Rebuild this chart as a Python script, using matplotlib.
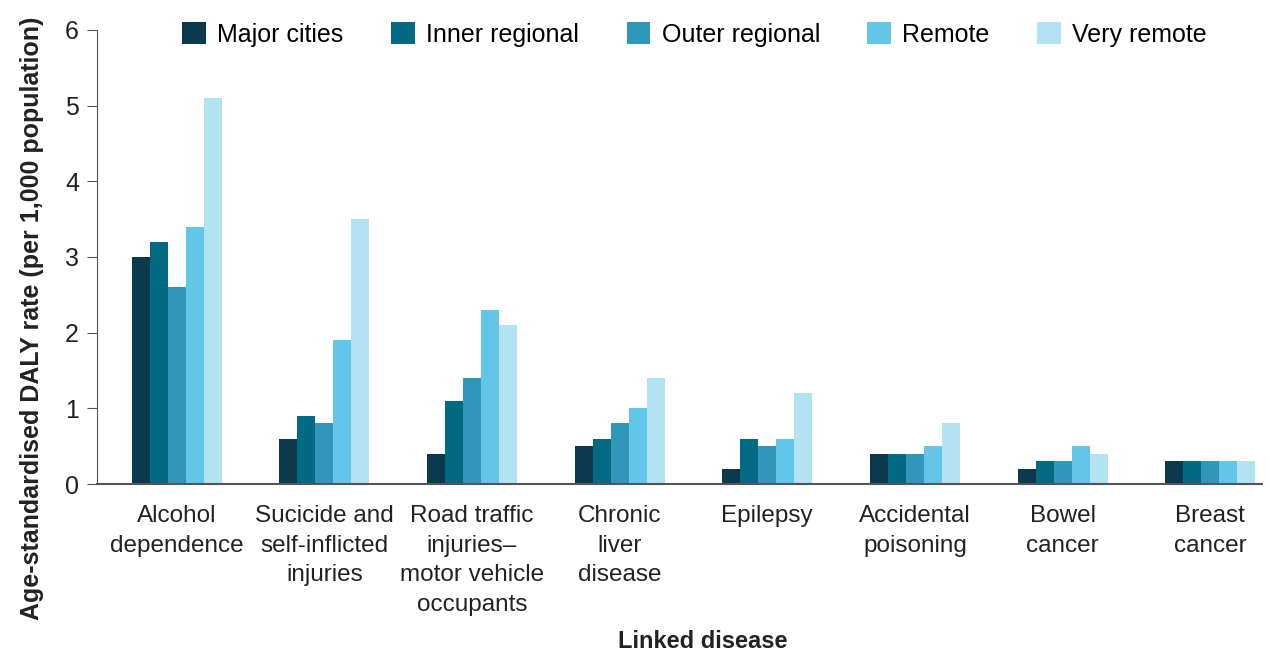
import matplotlib.pyplot as plt
import numpy as np

plt.rcParams['font.family'] = ['Liberation Sans', 'DejaVu Sans']

diseases = ['Alcohol\ndependence', 'Sucicide and\nself-inflicted\ninjuries',
            'Road traffic\ninjuries\u2013\nmotor vehicle\noccupants',
            'Chronic\nliver\ndisease', 'Epilepsy', 'Accidental\npoisoning',
            'Bowel\ncancer', 'Breast\ncancer']
regions = ['Major cities', 'Inner regional', 'Outer regional', 'Remote', 'Very remote']
major_cities = [3.0, 0.6, 0.4, 0.5, 0.2, 0.4, 0.2, 0.3]
inner_regional = [3.2, 0.9, 1.1, 0.6, 0.6, 0.4, 0.3, 0.3]
outer_regional = [2.6, 0.8, 1.4, 0.8, 0.5, 0.4, 0.3, 0.3]
remote = [3.4, 1.9, 2.3, 1.0, 0.6, 0.5, 0.5, 0.3]
very_remote = [5.1, 3.5, 2.1, 1.4, 1.2, 0.8, 0.4, 0.3]
series = [major_cities, inner_regional, outer_regional, remote, very_remote]
colors = ['#0a394d', '#006a82', '#2f98ba', '#61c6e8', '#b3e2f3']

fig = plt.figure(figsize=(12.69, 6.51), dpi=100)
ax = fig.add_axes([0.0764, 0.2565, 0.918, 0.6975])

x = np.arange(len(diseases))
w = 0.122
for i, (vals, c, name) in enumerate(zip(series, colors, regions)):
    ax.bar(x + (i - 2) * w, vals, w, color=c, label=name)

ax.set_xlim(-0.54, 7.35)
ax.set_ylim(0, 6)
ax.set_yticks(range(7))
ax.set_xticks(x)
ax.set_xticklabels(diseases, fontsize=17.5, color='#222222', linespacing=1.46)
ax.tick_params(axis='x', length=0, pad=15)
ax.tick_params(axis='y', labelsize=18, colors='#222222', length=7, pad=6,
               color='#555555')
for s in ['top', 'right']:
    ax.spines[s].set_visible(False)
ax.spines['left'].set_color('#555555')
ax.spines['bottom'].set_color('#555555')
ax.spines['bottom'].set_linewidth(1.5)

ax.set_ylabel('Age-standardised DALY rate (per 1,000 population)', fontsize=18,
              fontweight='bold', color='#222222')
ax.yaxis.set_label_coords(-0.0455, 0.366)
ax.set_xlabel('Linked disease', fontsize=17, fontweight='bold', color='#222222')
ax.xaxis.set_label_coords(0.52, -0.322)

ax.legend(loc='center', bbox_to_anchor=(0.513, 0.99), ncol=5, frameon=False,
          fontsize=18, handlelength=0.95, handleheight=0.95, columnspacing=1.9,
          handletextpad=0.45)

fig.savefig('out.png', dpi=100)
